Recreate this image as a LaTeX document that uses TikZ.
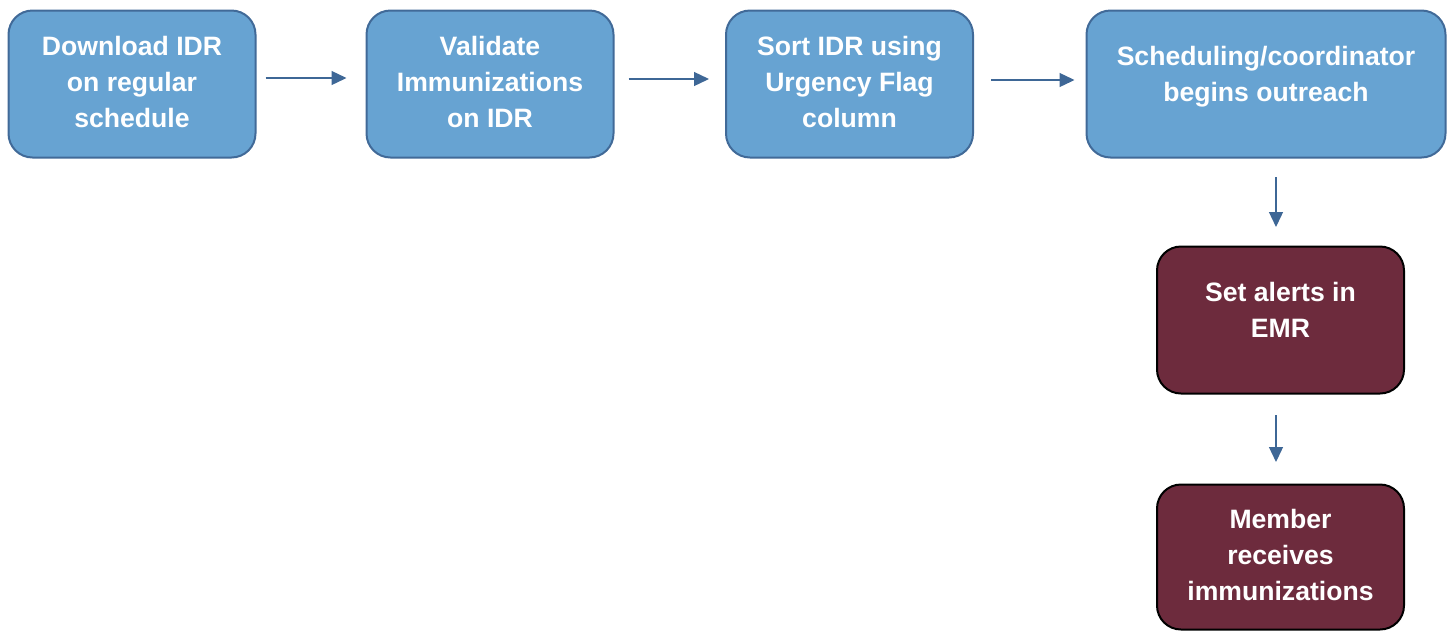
\documentclass[tikz,border=0pt]{standalone}
\usepackage{fontspec}
\setmainfont{Liberation Sans}
\usetikzlibrary{arrows.meta}
\definecolor{boxblue}{RGB}{103,163,210}
\definecolor{boxblueline}{RGB}{65,106,152}
\definecolor{maroon}{RGB}{109,43,61}
\definecolor{arrowblue}{RGB}{62,103,150}
\tikzset{
  box/.style={rectangle, rounded corners=24pt, line width=2pt, minimum width=247pt, minimum height=147pt, inner sep=0pt},
  bluebox/.style={box, fill=boxblue, draw=boxblueline},
  redbox/.style={box, fill=maroon, draw=black},
  lbl/.style={text=white, font=\bfseries\fontsize{26.6}{36}\selectfont, align=center, inner sep=0pt},
  conn/.style={draw=arrowblue, line width=1.3pt, -{Triangle[length=15pt,width=14pt]}, arrowblue}
}
\begin{document}
\begin{tikzpicture}[x=1pt,y=-1pt]
\useasboundingbox (0,0) rectangle (1448,630);
\node[bluebox] (b1) at (132,84) {};
\node[bluebox] (b2) at (490,84) {};
\node[bluebox] (b3) at (849.5,84) {};
\node[bluebox, minimum width=359pt] (b4) at (1266,84) {};
\node[redbox] (b5) at (1280.5,320) {};
\node[redbox, minimum height=145pt] (b6) at (1280.5,557) {};
\node[lbl] at ([yshift=2pt]b1) {Download IDR\\on regular\\schedule};
\node[lbl] at ([yshift=2pt]b2) {Validate\\Immunizations\\on IDR};
\node[lbl] at ([yshift=2pt]b3) {Sort IDR using\\Urgency Flag\\column};
\node[lbl] at ([yshift=7pt]b4) {Scheduling/coordinator\\begins outreach};
\node[lbl] at ([yshift=10pt]b5) {Set alerts in\\EMR};
\node[lbl] at ([yshift=2pt]b6) {Member\\receives\\immunizations};
\draw[conn] ([xshift=9pt,yshift=6pt]b1.east) -- ([xshift=-19pt,yshift=6pt]b2.west);
\draw[conn] ([xshift=14pt,yshift=5pt]b2.east) -- ([xshift=-16pt,yshift=5pt]b3.west);
\draw[conn] ([xshift=17pt,yshift=4pt]b3.east) -- ([xshift=-11pt,yshift=4pt]b4.west);
\draw[conn] ([xshift=10pt,yshift=-18.5pt]b4.south) -- ([xshift=-4.5pt,yshift=18.5pt]b5.north);
\draw[conn] ([xshift=-4.5pt,yshift=-20.5pt]b5.south) -- ([xshift=-4.5pt,yshift=21.5pt]b6.north);
\end{tikzpicture}
\end{document}
